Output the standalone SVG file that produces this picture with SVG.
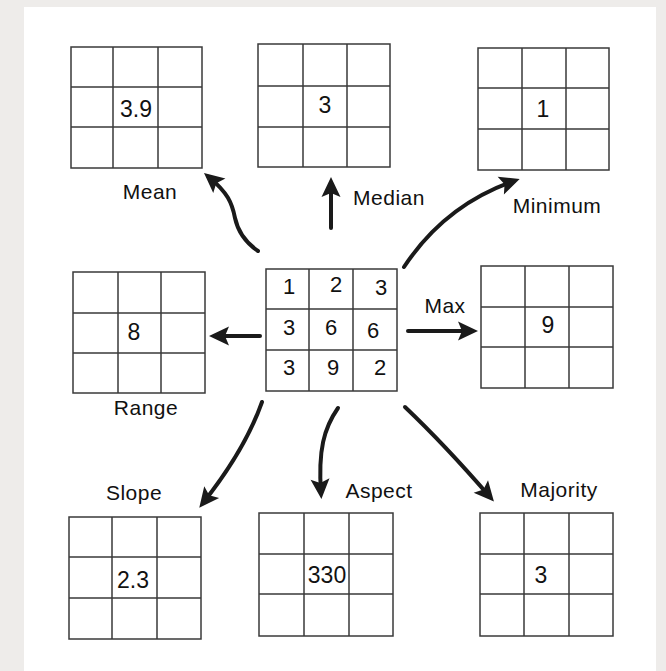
<svg xmlns="http://www.w3.org/2000/svg" width="666" height="671" viewBox="0 0 666 671">
<style>
.grid{fill:none;stroke:#3a3a3a;stroke-width:1.5}
.num{font-family:"Liberation Sans",Arial,sans-serif;font-size:23px;fill:#111;text-anchor:middle}
.cnum{font-family:"Liberation Sans",Arial,sans-serif;font-size:22px;fill:#111;text-anchor:middle}
.lbl{font-family:"Liberation Sans",Arial,sans-serif;font-size:21px;letter-spacing:0.5px;fill:#111;text-anchor:middle}
.arr{fill:none;stroke:#1a1a1a;stroke-width:4;stroke-linecap:round;marker-end:url(#head)}
</style>
<defs>
<marker id="head" markerUnits="userSpaceOnUse" viewBox="-21 -11 23 22" refX="-6" refY="0" markerWidth="23" markerHeight="22" orient="auto">
<path d="M0,0 L-20,-9.5 L-16,0 L-20,9.5 Z" fill="#1a1a1a"/>
</marker>
</defs>
<rect x="0" y="0" width="666" height="671" fill="#eeecea"/>
<rect x="24" y="7" width="632" height="664" fill="#ffffff"/>

<g id="mean">
<rect class="grid" x="71" y="47" width="131" height="121"/>
<path class="grid" d="M113,47V168M158,47V168M71,87H202M71,127H202"/>
<text class="num" x="136" y="117">3.9</text>
<text class="lbl" x="150" y="199">Mean</text>
</g>

<g id="median">
<rect class="grid" x="258" y="44" width="132" height="123"/>
<path class="grid" d="M303,44V167M347,44V167M258,86H390M258,127H390"/>
<text class="num" x="325" y="113">3</text>
<text class="lbl" x="389" y="205">Median</text>
</g>

<g id="minimum">
<rect class="grid" x="478" y="48" width="131" height="122"/>
<path class="grid" d="M522,48V170M566,48V170M478,88H609M478,129H609"/>
<text class="num" x="543" y="117">1</text>
<text class="lbl" x="557" y="213">Minimum</text>
</g>

<g id="range">
<rect class="grid" x="73" y="272" width="132" height="121"/>
<path class="grid" d="M118,272V393M161,272V393M73,313H205M73,353H205"/>
<text class="num" x="134" y="340">8</text>
<text class="lbl" x="146" y="415">Range</text>
</g>

<g id="input">
<rect class="grid" x="266" y="269" width="131" height="122"/>
<path class="grid" d="M309,269V391M353,269V391M266,309H397M266,350H397"/>
<text class="cnum" x="289" y="294">1</text>
<text class="cnum" x="336" y="292">2</text>
<text class="cnum" x="381" y="295">3</text>
<text class="cnum" x="289" y="335">3</text>
<text class="cnum" x="331" y="335">6</text>
<text class="cnum" x="373" y="338">6</text>
<text class="cnum" x="289" y="375">3</text>
<text class="cnum" x="333" y="375">9</text>
<text class="cnum" x="380" y="375">2</text>
</g>

<g id="max">
<rect class="grid" x="481" y="266" width="132" height="122"/>
<path class="grid" d="M525,266V388M569,266V388M481,307H613M481,347H613"/>
<text class="num" x="548" y="333">9</text>
<text class="lbl" x="445" y="313">Max</text>
</g>

<g id="slope">
<rect class="grid" x="69" y="517" width="132" height="122"/>
<path class="grid" d="M112,517V639M157,517V639M69,557H201M69,598H201"/>
<text class="num" x="133" y="588">2.3</text>
<text class="lbl" x="134" y="500">Slope</text>
</g>

<g id="aspect">
<rect class="grid" x="259" y="513" width="134" height="123"/>
<path class="grid" d="M304,513V636M349,513V636M259,554H393M259,594H393"/>
<text class="num" x="327" y="583">330</text>
<text class="lbl" x="379" y="498">Aspect</text>
</g>

<g id="majority">
<rect class="grid" x="480" y="513" width="133" height="123"/>
<path class="grid" d="M524,513V636M569,513V636M480,554H613M480,594H613"/>
<text class="num" x="541" y="583">3</text>
<text class="lbl" x="559" y="497">Majority</text>
</g>

<g id="connectors">
<path class="arr" d="M258,251 C245,242 238,232 235,218 C232,203 228,193 208.6,176.8"/>
<path class="arr" d="M331,228 L331,183"/>
<path class="arr" d="M404,267 Q445,205 514,181"/>
<path class="arr" d="M260,336 L215,336"/>
<path class="arr" d="M408,331 L472,331"/>
<path class="arr" d="M262,402 Q245,450 203,503"/>
<path class="arr" d="M338,408 C324,428 318,450 321,493"/>
<path class="arr" d="M405,407 Q445,445 490,497"/>
</g>
</svg>
